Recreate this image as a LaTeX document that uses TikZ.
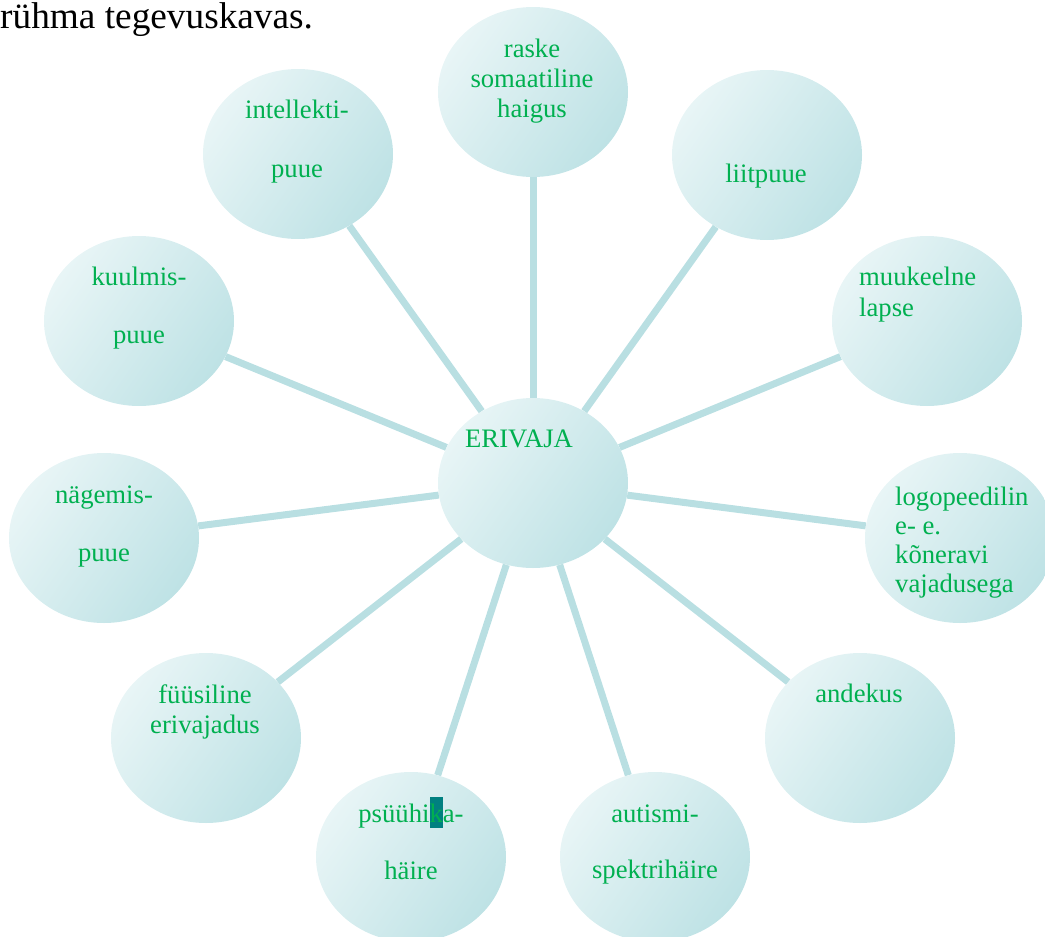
\documentclass[tikz,border=0pt]{standalone}
\usepackage{fontspec}
\setmainfont{Liberation Serif}
\usetikzlibrary{shapes.geometric,backgrounds}
\definecolor{txtgreen}{RGB}{0,176,80}
\definecolor{bubblelight}{RGB}{232,245,246}
\definecolor{bubbledark}{RGB}{190,226,229}
\definecolor{spoke}{RGB}{185,223,226}
\definecolor{selteal}{RGB}{0,128,128}
\newcommand{\bubfont}{\fontsize{26.67pt}{30pt}\selectfont}
\begin{document}
\begin{tikzpicture}[x=1pt,y=-1pt,
  bubble/.style={ellipse, minimum width=190pt, minimum height=170pt, inner sep=0pt,
    top color=bubblelight, bottom color=bubbledark, shading angle=55},
  lbl/.style={inner sep=0pt, anchor=base, text=txtgreen, font=\bubfont},
  lblw/.style={inner sep=0pt, anchor=base west, text=txtgreen, font=\bubfont},
  spokeline/.style={draw=spoke, line width=7pt}]
\useasboundingbox (0,0) rectangle (1045,937);

\node[inner sep=0pt, anchor=base west, font=\fontsize{37.3pt}{42pt}\selectfont] (title) at (0,28.5) {rühma tegevuskavas.};

\node[bubble] (c) at (533,483) {};
\node[bubble] (n1) at (533,92) {};
\node[bubble] (n2) at (767,155) {};
\node[bubble] (n3) at (927,321) {};
\node[bubble] (n4) at (960,538) {};
\node[bubble] (n5) at (860,738) {};
\node[bubble] (n6) at (655,857) {};
\node[bubble] (n7) at (411,857) {};
\node[bubble] (n8) at (206,738) {};
\node[bubble] (n9) at (104,538) {};
\node[bubble] (n10) at (139,321) {};
\node[bubble] (n11) at (298,154) {};

\begin{scope}[on background layer]
\foreach \n in {n1,n2,n3,n4,n5,n6,n7,n8,n9,n10,n11}
  \draw[spokeline] (c) -- (\n);
\end{scope}

\node[lblw] (tc) at (465,447) {ERIVAJA};

\node[lbl] (t1a) at (532,57) {raske};
\node[lbl] (t1b) at (532,87) {somaatiline};
\node[lbl] (t1c) at (532,117) {haigus};

\node[lbl] (t2) at (766,182) {liitpuue};

\node[lblw] (t3a) at (859,285) {muukeelne};
\node[lblw] (t3b) at (859,316) {lapse};

\node[lblw] (t4a) at (895,505) {logopeedilin};
\node[lblw] (t4b) at (895,534) {e- e.};
\node[lblw] (t4c) at (895,563) {kõneravi};
\node[lblw] (t4d) at (895,592) {vajadusega};

\node[lbl] (t5) at (859,702) {andekus};

\node[lbl] (t6a) at (655,822) {autismi-};
\node[lbl] (t6b) at (655,878) {spektrihäire};

\node[lbl] (t7a) at (411,822) {psüühi{\setlength{\fboxsep}{0pt}\colorbox{selteal}{\rule[-6pt]{0pt}{31pt}k}}a-};
\node[lbl] (t7b) at (411,879) {häire};

\node[lbl] (t8a) at (205,703) {füüsiline};
\node[lbl] (t8b) at (205,733) {erivajadus};

\node[lbl] (t9a) at (104,503) {nägemis-};
\node[lbl] (t9b) at (104,561) {puue};

\node[lbl] (t10a) at (139,285) {kuulmis-};
\node[lbl] (t10b) at (139,343) {puue};

\node[lbl] (t11a) at (297,118) {intellekti-};
\node[lbl] (t11b) at (297,177) {puue};
\end{tikzpicture}
\end{document}
